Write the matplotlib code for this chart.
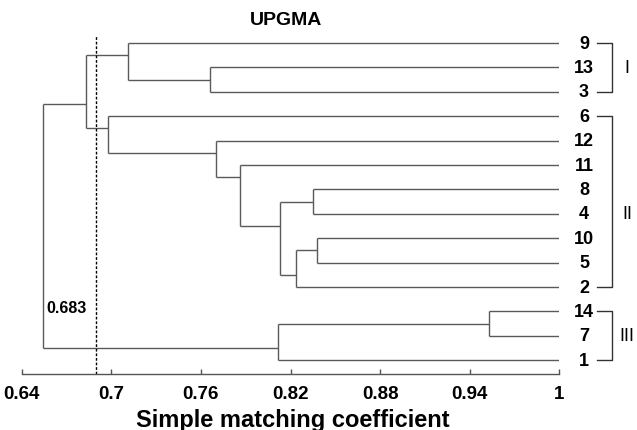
import matplotlib
matplotlib.use("Agg")
import matplotlib.pyplot as plt

# ---------------- data ----------------
leaf_order = ["9", "13", "3", "6", "12", "11", "8", "4", "10", "5", "2", "14", "7", "1"]

node_names = ["A", "B", "C", "D", "E", "F", "G", "H", "K", "L", "M", "N", "R"]
node_left = ["13", "9", "8", "10", "D", "C", "11", "12", "6", "B", "14", "M", "L"]
node_right = ["3", "A", "4", "5", "2", "E", "F", "G", "H", "K", "7", "1", "N"]
node_height = [0.766, 0.711, 0.835, 0.838, 0.8235, 0.8128, 0.7864, 0.7703,
               0.6976, 0.683, 0.9527, 0.8114, 0.6545]

cut_value = 0.69
cut_label = "0.683"

xticks = [0.64, 0.70, 0.76, 0.82, 0.88, 0.94, 1.0]
xtick_labels = ["0.64", "0.7", "0.76", "0.82", "0.88", "0.94", "1"]

groups = ["I", "II", "III"]
group_first = ["9", "6", "14"]
group_last = ["3", "2", "1"]
group_label_row = ["13", "4", "7"]

title = "UPGMA"
xlabel = "Simple matching coefficient"

# ---------------- layout ----------------
W, H = 637, 431
fig = plt.figure(figsize=(W / 100, H / 100), dpi=100)
ax = fig.add_axes([21.7 / W, (H - 374.5) / H, (559.3 - 21.7) / W, (374.5 - 30) / H])

n = len(leaf_order)
leaf_y = {lab: (n - 1 - i) for i, lab in enumerate(leaf_order)}

nodes = {nm: (l, r, h) for nm, l, r, h in zip(node_names, node_left, node_right, node_height)}

def leaves_of(name):
    if name in leaf_y:
        return [name]
    l, r, _ = nodes[name]
    return leaves_of(l) + leaves_of(r)

def xpos(name):
    return 1.0 if name in leaf_y else nodes[name][2]

def ypos(name):
    if name in leaf_y:
        return leaf_y[name]
    l, r, _ = nodes[name]
    last_left = leaves_of(l)[-1]
    first_right = leaves_of(r)[0]
    return (leaf_y[last_left] + leaf_y[first_right]) / 2.0

line_col = "#5a5a5a"
lw = 1.0
for nm in node_names:
    l, r, h = nodes[nm]
    yl, yr = ypos(l), ypos(r)
    ax.plot([h, h], [yl, yr], color=line_col, lw=lw, solid_capstyle="butt")
    ax.plot([xpos(l), h], [yl, yl], color=line_col, lw=lw, solid_capstyle="butt")
    ax.plot([xpos(r), h], [yr, yr], color=line_col, lw=lw, solid_capstyle="butt")

ybot = -(374.5 - 361.3) / 24.4
ytop = 13 + (44 - 30) / 24.4
ax.set_xlim(0.64, 1.0)
ax.set_ylim(ybot, ytop)

# dashed cut line
ax.plot([cut_value, cut_value], [ybot, 13 + (44 - 37.3) / 24.4], color="black",
        lw=1.0, dashes=(2, 1.3))
ax.text(0.6567, (361.3 - 313.3) / 24.4, cut_label, ha="left", va="baseline",
        fontsize=11.5, fontweight="bold", family="Liberation Sans", color="black")

# leaf labels
for lab in leaf_order:
    ax.text(1.0166, leaf_y[lab], lab, ha="center", va="center", fontsize=13,
            fontweight="bold", family="Liberation Sans", clip_on=False)

# brackets
bx0 = 0.64 + (597 - 21.7) / 1493.3
bx1 = 0.64 + (612 - 21.7) / 1493.3
gx = 0.64 + (627 - 21.7) / 1493.3
for g, a, b, row in zip(groups, group_first, group_last, group_label_row):
    ya, yb = leaf_y[a], leaf_y[b]
    ax.plot([bx0, bx1, bx1, bx0], [ya, ya, yb, yb], color="#333333", lw=1.0, clip_on=False)
    ax.text(gx, leaf_y[row], g, ha="center", va="center", fontsize=13,
            family="Liberation Sans", clip_on=False)

# axes styling
for s in ["top", "left", "right"]:
    ax.spines[s].set_visible(False)
ax.spines["bottom"].set_color("#555555")
ax.spines["bottom"].set_linewidth(1.0)
ax.set_yticks([])
ax.set_xticks(xticks)
ax.set_xticklabels(xtick_labels, fontsize=13.5, fontweight="bold", family="Liberation Sans")
ax.tick_params(axis="x", direction="in", length=3.5, width=1.0, color="#555555", pad=8.5)

fig.text(286 / W, 1 - 25 / H, title, ha="center", va="baseline", fontsize=14,
         fontweight="bold", family="Liberation Sans")
fig.text(293 / W, 1 - 426.7 / H, xlabel, ha="center", va="baseline", fontsize=17,
         fontweight="bold", family="Liberation Sans")

fig.savefig("out.png", dpi=100)
